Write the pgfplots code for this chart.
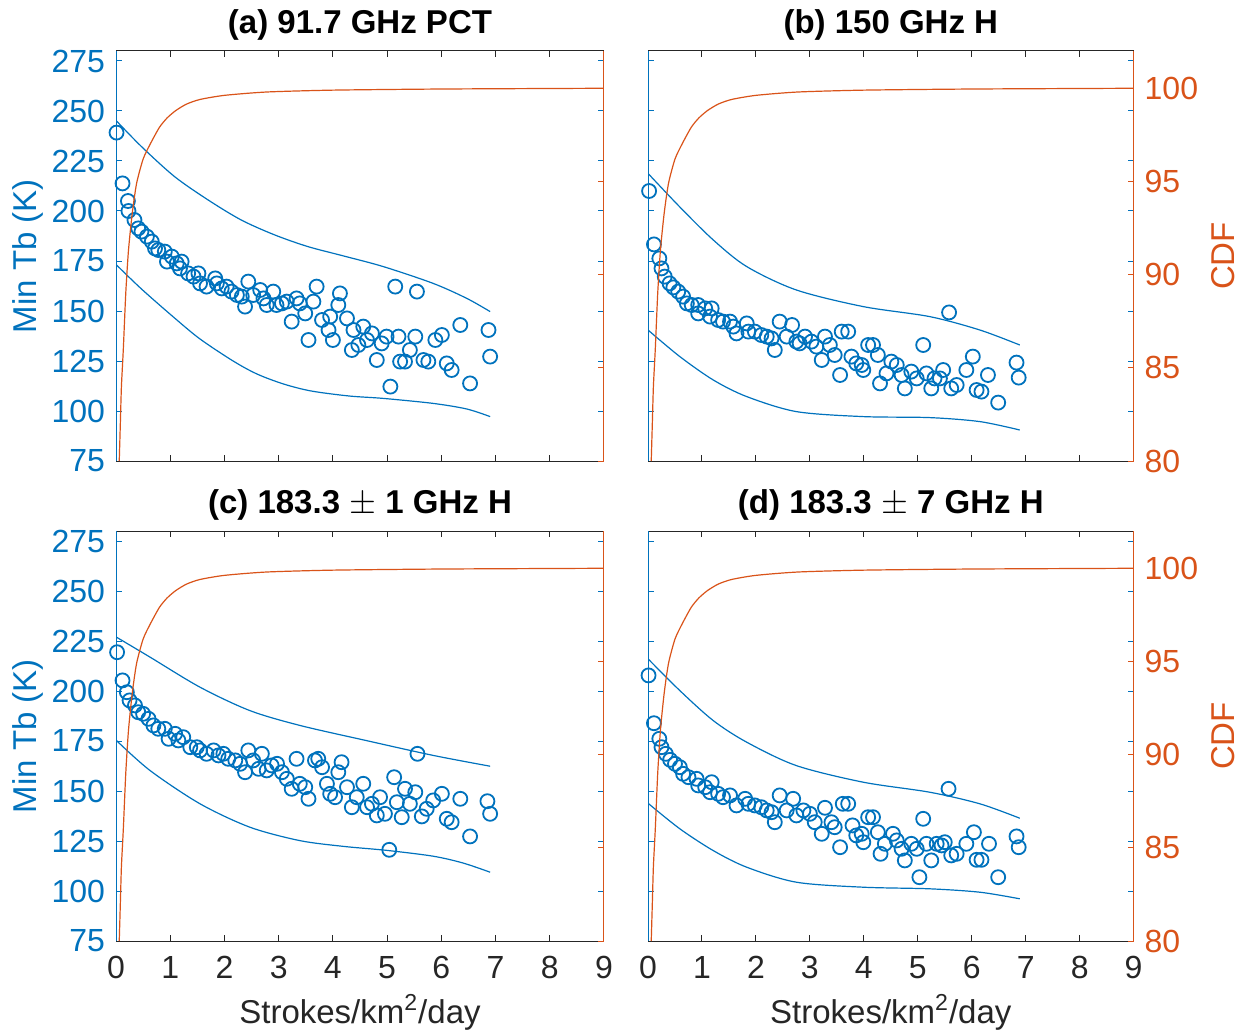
\documentclass[border=0pt]{standalone}
\usepackage{fontspec}
\setmainfont{Liberation Sans}
\usepackage{pgfplots}
\usepackage{pgfplotstable}
\pgfplotsset{compat=1.18}
\definecolor{mblue}{RGB}{0,114,189}
\definecolor{morange}{RGB}{217,83,25}
\definecolor{mgray}{RGB}{38,38,38}

\pgfplotstableread{
x y
0.01 239.2
0.12 213.8
0.22 205
0.23 200
0.34 195.5
0.41 191.3
0.47 189.7
0.57 187.2
0.66 184.7
0.72 181.3
0.78 180.5
0.90 179.7
0.94 174.7
1.03 177.2
1.12 173.8
1.21 174.7
1.18 171.3
1.33 168.8
1.43 167.2
1.52 168.8
1.55 163.8
1.67 162.2
1.83 166.3
1.86 163.8
1.95 161.3
2.04 162.2
2.13 159.7
2.23 158
2.32 157.2
2.44 164.7
2.38 152.2
2.53 158
2.66 160.5
2.72 156.3
2.78 153
2.90 159.7
2.96 153
3.06 153.8
3.15 154.7
3.24 144.7
3.33 156.3
3.39 153.8
3.49 148.8
3.55 135.5
3.64 154.7
3.70 162.2
3.80 145.5
3.92 140.5
3.95 147.2
4.00 135.5
4.13 158.8
4.10 153
4.26 146.3
4.35 130.5
4.38 140.5
4.47 133
4.56 142.2
4.63 135.5
4.72 138.8
4.81 125.5
4.90 133.8
4.99 137.2
5.06 112.2
5.15 162.2
5.21 137.2
5.24 124.7
5.33 124.7
5.42 130.5
5.52 137.2
5.55 159.7
5.67 125.5
5.76 124.7
5.89 135.5
6.01 138
6.10 123.8
6.19 120.5
6.35 143
6.53 113.8
6.87 140.5
6.90 127.2
}\scatA

\pgfplotstableread{
x y
0.02 210
0.11 183.3
0.21 176.3
0.25 171.3
0.31 167.2
0.40 163.8
0.47 161.8
0.56 159.7
0.65 157.2
0.72 153.8
0.81 153
0.93 153
0.93 148.8
1.06 151.3
1.18 151.3
1.15 147.2
1.30 145.5
1.39 144.7
1.52 144.7
1.58 142.2
1.64 138.8
1.83 143.8
1.86 139.7
1.98 139.7
2.10 138
2.20 137.2
2.29 136.3
2.35 130.5
2.44 144.7
2.57 137.2
2.67 143
2.75 134.7
2.81 133.8
2.91 137.2
3.03 134.7
3.12 132.2
3.22 125.5
3.28 137.2
3.37 133
3.46 128
3.56 118
3.59 139.7
3.71 139.7
3.77 127.2
3.86 123.8
3.96 123
3.99 120.5
4.08 133
4.17 133
4.26 128
4.30 113.8
4.42 118.8
4.51 124.7
4.61 123
4.70 118
4.76 111.3
4.88 119.7
4.98 116.3
5.10 133
5.16 118.8
5.25 111.3
5.31 116.3
5.41 116.3
5.47 120.5
5.58 149.3
5.62 111.3
5.72 113
5.90 120.5
6.02 127.2
6.09 110.5
6.18 109.7
6.30 118
6.49 104.2
6.83 124.2
6.87 116.7
}\scatB

\pgfplotstableread{
x y
0.02 219.4
0.12 205.3
0.20 199.4
0.25 195.3
0.35 192.8
0.41 189.4
0.50 188.6
0.60 186.1
0.69 182.8
0.78 181.1
0.90 181.1
0.97 176.1
1.09 178.6
1.15 175.3
1.24 176.9
1.37 171.9
1.49 171.9
1.55 170.3
1.67 168.6
1.80 170.3
1.89 167.8
1.98 168.6
2.07 166.1
2.20 165.3
2.29 163.6
2.38 159.4
2.44 170.3
2.53 165.3
2.63 161.1
2.69 168.6
2.78 160.3
2.87 162.8
2.97 163.6
3.06 159.4
3.15 156.1
3.24 151.1
3.33 166.1
3.39 153.6
3.49 151.9
3.55 146.1
3.67 165.3
3.73 166.1
3.80 161.9
3.89 153.6
3.95 148.6
4.04 146.9
4.10 159.4
4.16 164.4
4.26 151.9
4.35 141.9
4.44 146.9
4.56 153.6
4.63 141.9
4.72 143.6
4.81 137.8
4.87 146.9
4.96 138.6
5.04 120.6
5.13 156.9
5.18 144.4
5.27 136.9
5.33 151.1
5.42 143.6
5.52 149.4
5.56 168.6
5.64 137.3
5.73 141.1
5.85 145.3
6.01 148.6
6.10 136.1
6.19 134.4
6.35 146.1
6.53 127.3
6.85 144.9
6.90 138.6
}\scatC

\pgfplotstableread{
x y
0.01 207.8
0.11 183.9
0.21 176.1
0.25 171.9
0.33 168.6
0.41 165.6
0.50 163.6
0.59 161.9
0.65 158.6
0.75 156.9
0.90 156.1
0.93 152.8
1.06 151.9
1.18 154.4
1.15 149.4
1.30 148.6
1.39 146.9
1.52 147.8
1.64 142.8
1.80 146.1
1.86 143.6
1.98 142.8
2.10 141.9
2.20 140.3
2.29 139.4
2.35 134.4
2.44 147.8
2.57 140.3
2.69 146.1
2.75 137.8
2.88 140.3
3.00 138.6
3.09 134.4
3.22 128.6
3.28 141.6
3.40 134.4
3.46 131.9
3.56 121.9
3.61 143.6
3.71 143.6
3.79 132.8
3.86 127.8
3.96 128.6
3.99 124.4
4.08 136.9
4.17 136.9
4.26 129.4
4.31 118.6
4.39 123.6
4.54 128.6
4.61 125.3
4.70 121.1
4.76 115.3
4.88 123.6
4.98 121.1
5.03 106.9
5.10 136.1
5.16 123.6
5.25 115.3
5.35 123.6
5.44 122.8
5.50 124.4
5.57 151.1
5.62 117.8
5.72 118.6
5.90 123.6
6.04 129.4
6.09 115.6
6.18 115.6
6.32 123.6
6.49 106.9
6.83 127.3
6.87 121.9
}\scatD

\pgfplotstableread{
x y
0.06 80
0.08 82
0.10 84
0.135 86
0.18 89
0.23 91.3
0.30 93.3
0.38 94.9
0.50 96.2
0.63 97.0
0.80 97.9
0.94 98.4
1.10 98.8
1.30 99.15
1.55 99.4
2.00 99.62
2.78 99.8
4.00 99.9
6.00 99.96
9.00 100
}\cdfdata

\pgfplotsset{
  base/.style={
    scale only axis, height=205pt,
    xmin=0, xmax=9, xtick={0,...,9},
    tick align=inside, major tick length=2.8pt,
    /pgf/number format/assume math mode=true,
    tick label style={font=\fontsize{16}{16}\selectfont},
    label style={font=\fontsize{16.5}{16.5}\selectfont},
    title style={font=\bfseries\fontsize{16.5}{16.5}\selectfont, yshift=-4pt},
  },
  tbaxis/.style={
    base, ymin=75, ymax=280, ytick={75,100,...,275},
    separate axis lines,
    x axis line style={mgray, line width=0.5pt},
    y axis line style={mblue, line width=0.5pt},
    x tick style={mgray, line width=0.5pt},
    y tick style={mblue, line width=0.5pt},
    yticklabel style={text=mblue, xshift=-2pt},
    xticklabel style={text=mgray, yshift=-4pt},
    ylabel style={text=mblue, at={(ticklabel cs:0.5,-3pt)}},
    xlabel style={text=mgray, yshift=-1pt},
  },
  cdfaxis/.style={
    base, ymin=80, ymax=102, ytick={80,85,90,95,100},
    axis y line*=right, axis x line=none,
    y axis line style={morange, line width=0.5pt},
    y tick style={morange, line width=0.5pt},
    yticklabel style={text=morange, xshift=2pt},
    ylabel style={text=morange},
  },
  scat/.style={only marks, mark=o, mark size=3.5pt, color=mblue, mark options={line width=0.9pt}},
  bnd/.style={mblue, line width=0.6pt, smooth, no marks},
  cdfl/.style={morange, line width=0.6pt, smooth, tension=0.4, no marks},
}

\begin{document}
\begin{tikzpicture}
\useasboundingbox (0,0) rectangle (623pt,-516pt);

% ---------- (a)
\begin{axis}[tbaxis, width=244pt, at={(58pt,-230.5pt)}, anchor=south west,
  xticklabels={}, ylabel={Min Tb (K)}, title={(a) 91.7 GHz PCT}]
\addplot[scat] table {\scatA};
\addplot[bnd] coordinates {(0.01,245) (0.47,232.2) (1.08,217.2) (1.7,205.5) (2.31,195.5) (2.93,188) (3.54,182.2) (4.2,177.5) (4.93,172.2) (5.85,163.8) (6.47,156.3) (6.9,149.7)};
\addplot[bnd] coordinates {(0.01,173) (0.47,161) (1.08,146.5) (1.55,136) (2.16,125) (2.6,118.5) (3.09,113.5) (3.6,110) (4.3,107.5) (4.93,106.3) (5.85,103.8) (6.47,101) (6.9,97.2)};
\end{axis}
\begin{axis}[cdfaxis, width=244pt, at={(58pt,-230.5pt)}, anchor=south west, yticklabels={}]
\addplot[cdfl] table {\cdfdata};
\end{axis}

% ---------- (b)
\begin{axis}[tbaxis, width=242.8pt, at={(324pt,-230.5pt)}, anchor=south west,
  xticklabels={}, yticklabels={}, title={(b) 150 GHz H}]
\addplot[scat] table {\scatB};
\addplot[bnd] coordinates {(0.0,218.8) (0.59,202) (1.21,185.5) (1.83,172.2) (2.75,160.5) (3.99,152.2) (5.22,147.2) (6.15,140.5) (6.89,133)};
\addplot[bnd] coordinates {(0.0,140.5) (0.59,127.2) (1.21,115.5) (1.83,107.2) (2.75,99.7) (3.99,97.2) (5.22,96.7) (6.15,94.7) (6.89,90.5)};
\end{axis}
\begin{axis}[cdfaxis, width=242.8pt, at={(324pt,-230.5pt)}, anchor=south west, ylabel={CDF}]
\addplot[cdfl] table {\cdfdata};
\end{axis}

% ---------- (c)
\begin{axis}[tbaxis, width=244pt, at={(58pt,-470.5pt)}, anchor=south west,
  ylabel={Min Tb (K)}, xlabel={Strokes/km\textsuperscript{2}/day},
  title={(c) 183.3 $\pm$ 1 GHz H}]
\addplot[scat] table {\scatC};
\addplot[bnd] coordinates {(0.01,226.9) (0.63,216.9) (1.55,201.9) (2.47,190.2) (3.39,182.8) (4.62,175.2) (5.85,167.8) (6.9,162.4)};
\addplot[bnd] coordinates {(0.01,175.2) (0.63,160.2) (1.55,143.6) (2.47,131.9) (3.39,125.2) (4.2,122.3) (5.0,120.3) (5.85,117.4) (6.4,114) (6.9,109.4)};
\end{axis}
\begin{axis}[cdfaxis, width=244pt, at={(58pt,-470.5pt)}, anchor=south west, yticklabels={}]
\addplot[cdfl] table {\cdfdata};
\end{axis}

% ---------- (d)
\begin{axis}[tbaxis, width=242.8pt, at={(324pt,-470.5pt)}, anchor=south west,
  yticklabels={}, xlabel={Strokes/km\textsuperscript{2}/day},
  title={(d) 183.3 $\pm$ 7 GHz H}]
\addplot[scat] table {\scatD};
\addplot[bnd] coordinates {(0.0,216.1) (0.59,200.2) (1.21,185.2) (1.83,174.4) (2.75,162.7) (3.99,154.4) (5.22,149.4) (6.15,143.6) (6.89,136.4)};
\addplot[bnd] coordinates {(0.0,143.9) (0.59,131.1) (1.21,120.2) (1.83,111.9) (2.75,104.4) (3.99,101.9) (5.22,101.1) (6.15,99.4) (6.89,96.1)};
\end{axis}
\begin{axis}[cdfaxis, width=242.8pt, at={(324pt,-470.5pt)}, anchor=south west, ylabel={CDF}]
\addplot[cdfl] table {\cdfdata};
\end{axis}
\end{tikzpicture}
\end{document}
